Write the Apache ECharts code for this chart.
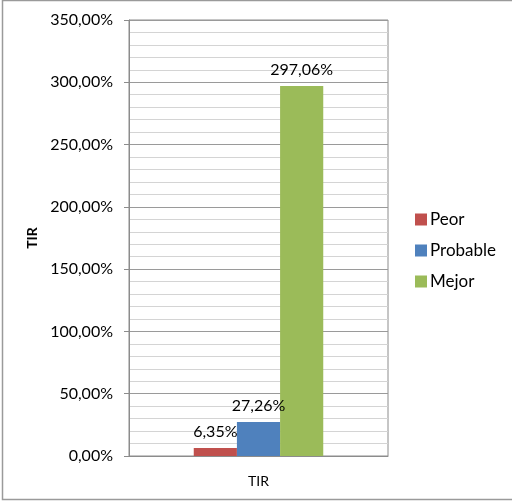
<!DOCTYPE html>
<html>
<head>
<meta charset="utf-8">
<script src="https://cdn.jsdelivr.net/npm/echarts@6/dist/echarts.min.js"></script>
<style>
  html, body { margin: 0; padding: 0; background: #fff; }
  #chart { width: 512px; height: 501px; }
</style>
</head>
<body>
<div id="chart"></div>
<script>
// TIR por escenario
const categories = ['TIR'];
const seriesNames = ['Peor', 'Probable', 'Mejor'];
const peor = [6.35];
const probable = [27.26];
const mejor = [297.06];
const seriesColors = ['#C0504D', '#4F81BD', '#9BBB59'];

const FONT = 'Lato, "Open Sans", sans-serif';
const pct = v => v.toFixed(2).replace('.', ',') + '%';

const chart = echarts.init(document.getElementById('chart'), null, { renderer: 'canvas' });

const values = [peor, probable, mejor];
const series = seriesNames.map((name, i) => ({
  name,
  type: 'bar',
  data: values[i],
  barGap: '0%',
  barCategoryGap: '50%',
  itemStyle: { color: seriesColors[i] },
  label: {
    show: true,
    position: 'top',
    distance: 8,
    formatter: p => pct(p.value),
    color: '#000',
    fontFamily: FONT,
    fontSize: 16
  }
}));

chart.setOption({
  animation: false,
  backgroundColor: '#fff',
  graphic: [{
    type: 'rect',
    shape: { x: 2.5, y: 0.5, width: 530, height: 499 },
    style: { fill: 'none', stroke: '#9a9a9a', lineWidth: 1.5 },
    silent: true
  }],
  grid: {
    left: 129, right: 124, top: 20, bottom: 45,
    show: true, borderColor: '#8c8c8c', borderWidth: 1
  },
  legend: {
    orient: 'vertical',
    left: 410,
    top: 206,
    itemWidth: 12,
    itemHeight: 12,
    itemGap: 14,
    icon: 'rect',
    textStyle: { fontFamily: FONT, fontSize: 17, color: '#000', padding: [0, 0, 0, -2] },
    data: seriesNames
  },
  xAxis: {
    type: 'category',
    data: categories,
    axisLine: { lineStyle: { color: '#8c8c8c' } },
    axisTick: { show: false },
    axisLabel: { fontFamily: FONT, fontSize: 14, color: '#000', margin: 18 }
  },
  yAxis: {
    type: 'value',
    min: 0,
    max: 350,
    interval: 50,
    name: 'TIR',
    nameLocation: 'middle',
    nameGap: 88,
    nameRotate: 90,
    nameTextStyle: { fontFamily: FONT, fontSize: 14, fontWeight: 'bold', color: '#000' },
    axisLine: { show: true, lineStyle: { color: '#8c8c8c' } },
    axisTick: { show: true, length: 5, lineStyle: { color: '#8c8c8c' } },
    axisLabel: { fontFamily: FONT, fontSize: 16, color: '#000', margin: 16, formatter: v => pct(v) },
    splitLine: { show: true, lineStyle: { color: '#9a9a9a', width: 1 } },
    minorTick: { show: false, splitNumber: 5 },
    minorSplitLine: { show: true, lineStyle: { color: '#d4d4d4', width: 1 } }
  },
  series
});
</script>
</body>
</html>
